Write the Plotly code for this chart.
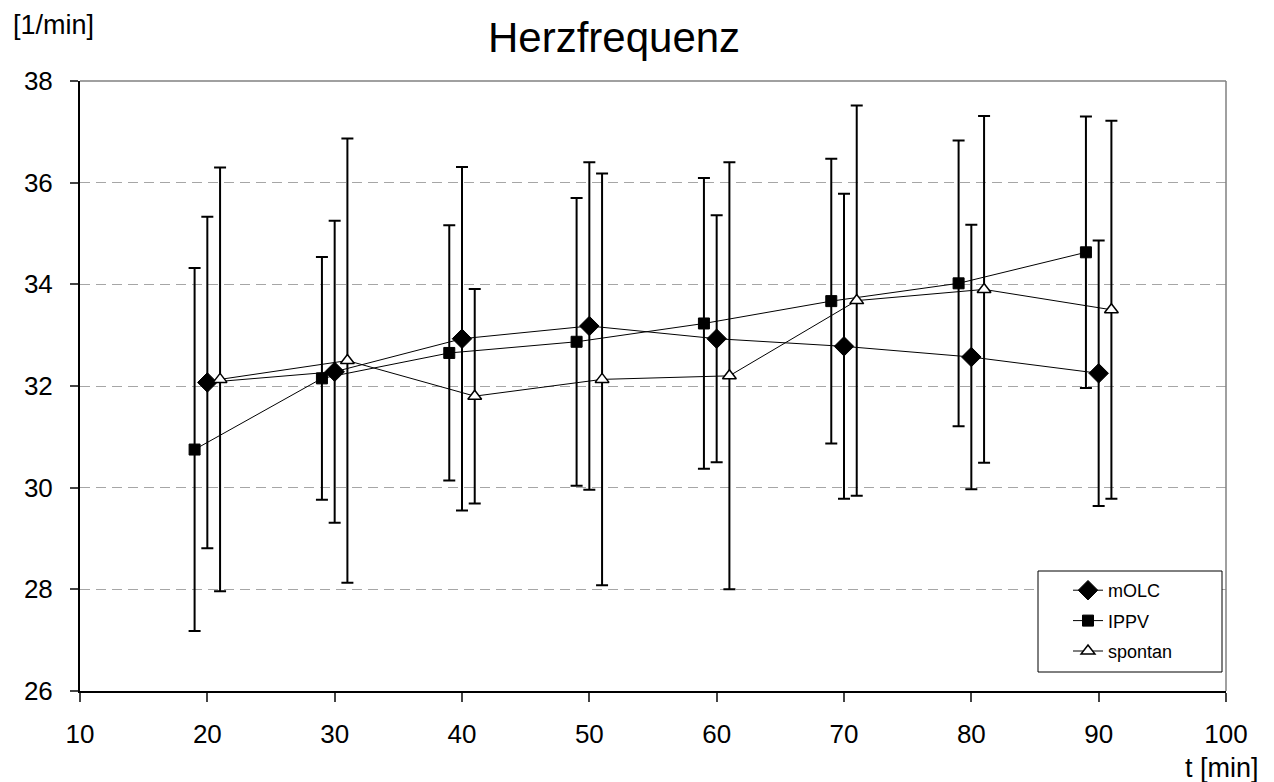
import plotly.graph_objects as go

# Data
times = [20, 30, 40, 50, 60, 70, 80, 90]
molc_mean = [32.07, 32.28, 32.93, 33.18, 32.93, 32.78, 32.57, 32.25]
molc_sd = [3.26, 2.97, 3.38, 3.22, 2.43, 3.00, 2.60, 2.61]
ippv_mean = [30.75, 32.15, 32.65, 32.87, 33.23, 33.67, 34.02, 34.63]
ippv_sd = [3.57, 2.39, 2.51, 2.83, 2.86, 2.80, 2.81, 2.67]
spontan_mean = [32.13, 32.50, 31.80, 32.13, 32.20, 33.68, 33.90, 33.50]
spontan_sd = [4.17, 4.37, 2.11, 4.05, 4.20, 3.84, 3.41, 3.72]
x_offsets = {"mOLC": 0, "IPPV": -1, "spontan": 1}
x_ticks = [10, 20, 30, 40, 50, 60, 70, 80, 90, 100]
y_ticks = [26, 28, 30, 32, 34, 36, 38]

FONT = "Liberation Sans, Arial, sans-serif"

# page body has an 8px margin; plot area in the page: x 80..1226, y 81..691
OFF = 8
PL, PR, PT, PB = 80, 1226, 81, 691
PW, PH = PR - PL, PB - PT


def px(xp):
    return (xp - PL) / PW


def py(yp):
    return (PB - yp) / PH


series = [
    ("mOLC", molc_mean, molc_sd, dict(symbol="diamond", size=15, color="black",
                                      line=dict(color="black", width=1))),
    ("IPPV", ippv_mean, ippv_sd, dict(symbol="square", size=11, color="black",
                                      line=dict(color="black", width=1))),
    ("spontan", spontan_mean, spontan_sd, dict(symbol="triangle-up", size=12, color="white",
                                               line=dict(color="black", width=1.5))),
]

fig = go.Figure()
for name, mean, sd, marker in series:
    xs = [t + x_offsets[name] for t in times]
    fig.add_trace(go.Scatter(
        x=xs, y=mean, name=name, mode="lines+markers", legendgroup=name,
        line=dict(color="black", width=1),
        marker=marker,
        error_y=dict(type="data", array=sd, visible=True, color="black",
                     thickness=2, width=6),
    ))

W, H = 1274 - OFF, 782 - OFF
fig.update_layout(
    width=W, height=H,
    margin=dict(l=PL - OFF, r=W - (PR - OFF), t=PT - OFF, b=H - (PB - OFF)),
    plot_bgcolor="white", paper_bgcolor="white",
    font=dict(family=FONT, size=26, color="black"),
    showlegend=True,
    legend=dict(x=px(1068), y=py(572), xanchor="left", yanchor="top",
                bgcolor="rgba(0,0,0,0)", borderwidth=0,
                font=dict(family=FONT, size=18, color="black"),
                tracegroupgap=4, itemwidth=30),
    xaxis=dict(range=[10, 100], tickvals=x_ticks, showgrid=False, zeroline=False,
               showline=True, linecolor="black", linewidth=2,
               ticks="outside", ticklen=9, tickcolor="#444", tickwidth=1.5,
               ticklabelstandoff=10,
               tickfont=dict(family=FONT, size=26, color="black")),
    yaxis=dict(range=[26, 38], tickvals=y_ticks, showgrid=True, gridcolor="#a6a6a6",
               griddash="10px,6px", gridwidth=1, zeroline=False,
               showline=True, linecolor="black", linewidth=2,
               ticks="outside", ticklen=8, tickcolor="#444", tickwidth=1.5,
               ticklabelstandoff=12,
               tickfont=dict(family=FONT, size=26, color="black")),
)

# Top and right border (gray, solid)
fig.add_shape(type="line", xref="paper", yref="paper", x0=0, x1=1, y0=1, y1=1,
              line=dict(color="#808080", width=1.5))
fig.add_shape(type="line", xref="paper", yref="paper", x0=1, x1=1, y0=0, y1=1,
              line=dict(color="#808080", width=1.5))
# Legend box
fig.add_shape(type="rect", xref="paper", yref="paper", layer="above",
              x0=px(1038), x1=px(1222), y0=py(672), y1=py(571),
              fillcolor="white", line=dict(color="black", width=1))

fig.add_annotation(text="Herzfrequenz", xref="paper", yref="paper",
                   x=px(614), y=py(37), xanchor="center", yanchor="middle",
                   showarrow=False, font=dict(family=FONT, size=42, color="black"))
fig.add_annotation(text="[1/min]", xref="paper", yref="paper",
                   x=px(11), y=py(25), xanchor="left", yanchor="middle",
                   showarrow=False, font=dict(family=FONT, size=27, color="black"))
fig.add_annotation(text="t [min]", xref="paper", yref="paper",
                   x=px(1261), y=py(768), xanchor="right", yanchor="middle",
                   showarrow=False, font=dict(family=FONT, size=27, color="black"))

fig.write_html("out.html")
